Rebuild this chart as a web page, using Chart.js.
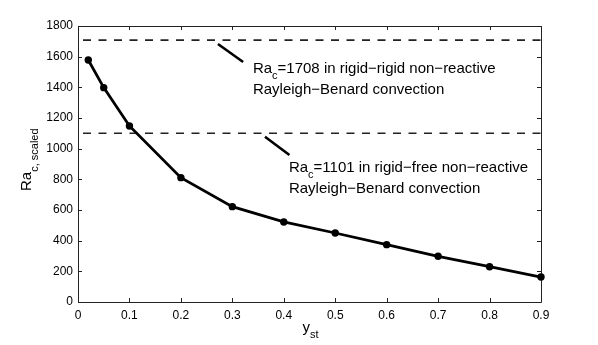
<!DOCTYPE html>
<html>
<head>
<meta charset="utf-8">
<script src="https://cdn.jsdelivr.net/npm/chart.js@4.4.0/dist/chart.umd.min.js"></script>
<style>
  html, body { margin: 0; background: #fff; }
</style>
</head>
<body>
<canvas id="rayleighChart" width="598" height="345"></canvas>
<script>
// data
const yst = [0.02, 0.05, 0.1, 0.2, 0.3, 0.4, 0.5, 0.6, 0.7, 0.8, 0.9];
const raScaled = [1578, 1398, 1148, 811, 622, 522, 450, 374, 298, 230, 163];
const raRigidRigid = 1708;
const raRigidFree = 1101;
const xTicks = [0, 0.1, 0.2, 0.3, 0.4, 0.5, 0.6, 0.7, 0.8, 0.9];
const yTicks = [0, 200, 400, 600, 800, 1000, 1200, 1400, 1600, 1800];
// short pointer strokes next to the two notes
const pointerRigidX = [0.272, 0.321];
const pointerRigidY = [1683, 1565];
const pointerFreeX = [0.3635, 0.411];
const pointerFreeY = [1078, 959];

const FONT = "'Liberation Sans', Arial, Helvetica, sans-serif";

function pts(xs, ys) {
  return xs.map((x, i) => ({ x: x, y: ys[i] }));
}

// text with a subscript, drawn at current origin
function subText(ctx, x, y, main, sub, rest, size, subSize, drop) {
  ctx.font = size + 'px ' + FONT;
  ctx.fillText(main, x, y);
  let w = ctx.measureText(main).width;
  ctx.font = subSize + 'px ' + FONT;
  ctx.fillText(sub, x + w, y + drop);
  w += ctx.measureText(sub).width;
  if (rest) {
    ctx.font = size + 'px ' + FONT;
    ctx.fillText(rest, x + w, y);
  }
}

const framePlugin = {
  id: 'frame',
  beforeDatasetsDraw(chart) {
    const { ctx, chartArea: a, scales: { x, y } } = chart;
    ctx.save();
    ctx.strokeStyle = '#222';
    ctx.lineWidth = 1;
    ctx.beginPath();
    ctx.rect(Math.round(a.left) + 0.5, Math.round(a.top) + 0.5,
             Math.round(a.right - a.left), Math.round(a.bottom - a.top));
    const t = 4;
    xTicks.forEach(v => {
      const px = Math.round(x.getPixelForValue(v)) + 0.5;
      ctx.moveTo(px, a.bottom); ctx.lineTo(px, a.bottom - t);
      ctx.moveTo(px, a.top); ctx.lineTo(px, a.top + t);
    });
    yTicks.forEach(v => {
      const py = Math.round(y.getPixelForValue(v)) + 0.5;
      ctx.moveTo(a.left, py); ctx.lineTo(a.left + t, py);
      ctx.moveTo(a.right, py); ctx.lineTo(a.right - t, py);
    });
    ctx.stroke();
    ctx.restore();
  },
  afterDraw(chart) {
    const { ctx, chartArea: a, scales: { x, y } } = chart;
    ctx.save();
    ctx.fillStyle = '#000';
    ctx.textAlign = 'left';
    ctx.textBaseline = 'alphabetic';

    // notes
    let nx = x.getPixelForValue(0.340);
    let ny = y.getPixelForValue(1493);
    subText(ctx, nx, ny, 'Ra', 'c', '=1708 in rigid\u2212rigid non\u2212reactive', 15, 11, 6);
    ctx.font = '15px ' + FONT;
    ctx.fillText('Rayleigh\u2212Benard convection', nx, ny + 21);

    nx = x.getPixelForValue(0.410);
    ny = y.getPixelForValue(851);
    subText(ctx, nx, ny, 'Ra', 'c', '=1101 in rigid\u2212free non\u2212reactive', 15, 11, 6);
    ctx.font = '15px ' + FONT;
    ctx.fillText('Rayleigh\u2212Benard convection', nx, ny + 21);

    // x title
    ctx.font = '15px ' + FONT;
    const wy = ctx.measureText('y').width;
    ctx.font = '11px ' + FONT;
    const ws = ctx.measureText('st').width;
    const cx = (a.left + a.right) / 2 - (wy + ws) / 2 + 1;
    subText(ctx, cx, 332, 'y', 'st', '', 15, 11, 6);

    // y title
    ctx.save();
    ctx.translate(31, 191);
    ctx.rotate(-Math.PI / 2);
    subText(ctx, 0, 0, 'Ra', 'c, scaled', '', 15, 11, 7);
    ctx.restore();

    ctx.restore();
  }
};

const ctx = document.getElementById('rayleighChart').getContext('2d');
const rayleighChart = new Chart(ctx, {
  type: 'line',
  data: {
    datasets: [
      {
        label: 'Ra_c scaled',
        data: pts(yst, raScaled),
        borderColor: '#000',
        backgroundColor: '#000',
        borderWidth: 2.8,
        pointRadius: 3.7,
        pointBorderWidth: 0,
        tension: 0,
        clip: false
      },
      {
        label: 'rigid-rigid',
        data: pts([0, 0.9], [raRigidRigid, raRigidRigid]),
        borderColor: '#222',
        borderWidth: 1.6,
        borderDash: [8, 7.5],
        borderDashOffset: 10.5,
        pointRadius: 0
      },
      {
        label: 'rigid-free',
        data: pts([0, 0.9], [raRigidFree, raRigidFree]),
        borderColor: '#222',
        borderWidth: 1.6,
        borderDash: [8, 7.5],
        borderDashOffset: 10.5,
        pointRadius: 0
      },
      {
        label: 'pointer 1',
        data: pts(pointerRigidX, pointerRigidY),
        borderColor: '#000',
        borderWidth: 2.6,
        pointRadius: 0
      },
      {
        label: 'pointer 2',
        data: pts(pointerFreeX, pointerFreeY),
        borderColor: '#000',
        borderWidth: 2.6,
        pointRadius: 0
      }
    ]
  },
  options: {
    responsive: false,
    animation: false,
    events: [],
    layout: { padding: { left: 0, top: 26, right: 57, bottom: 0 } },
    plugins: {
      legend: { display: false },
      tooltip: { enabled: false }
    },
    scales: {
      x: {
        type: 'linear',
        min: 0,
        max: 0.9,
        afterFit(scale) { scale.height = 43; },
        afterBuildTicks(scale) { scale.ticks = xTicks.map(v => ({ value: v })); },
        grid: { display: false, drawTicks: false },
        border: { display: false },
        ticks: {
          color: '#000',
          padding: 6,
          maxRotation: 0,
          font: { family: FONT, size: 12 },
          callback: v => (v === 0 ? '0' : v.toFixed(1))
        }
      },
      y: {
        type: 'linear',
        min: 0,
        max: 1800,
        afterFit(scale) { scale.width = 78; },
        afterBuildTicks(scale) { scale.ticks = yTicks.map(v => ({ value: v })); },
        grid: { display: false, drawTicks: false },
        border: { display: false },
        ticks: {
          color: '#000',
          padding: 5,
          font: { family: FONT, size: 12 },
          callback: v => String(v)
        }
      }
    }
  },
  plugins: [framePlugin]
});
</script>
</body>
</html>
